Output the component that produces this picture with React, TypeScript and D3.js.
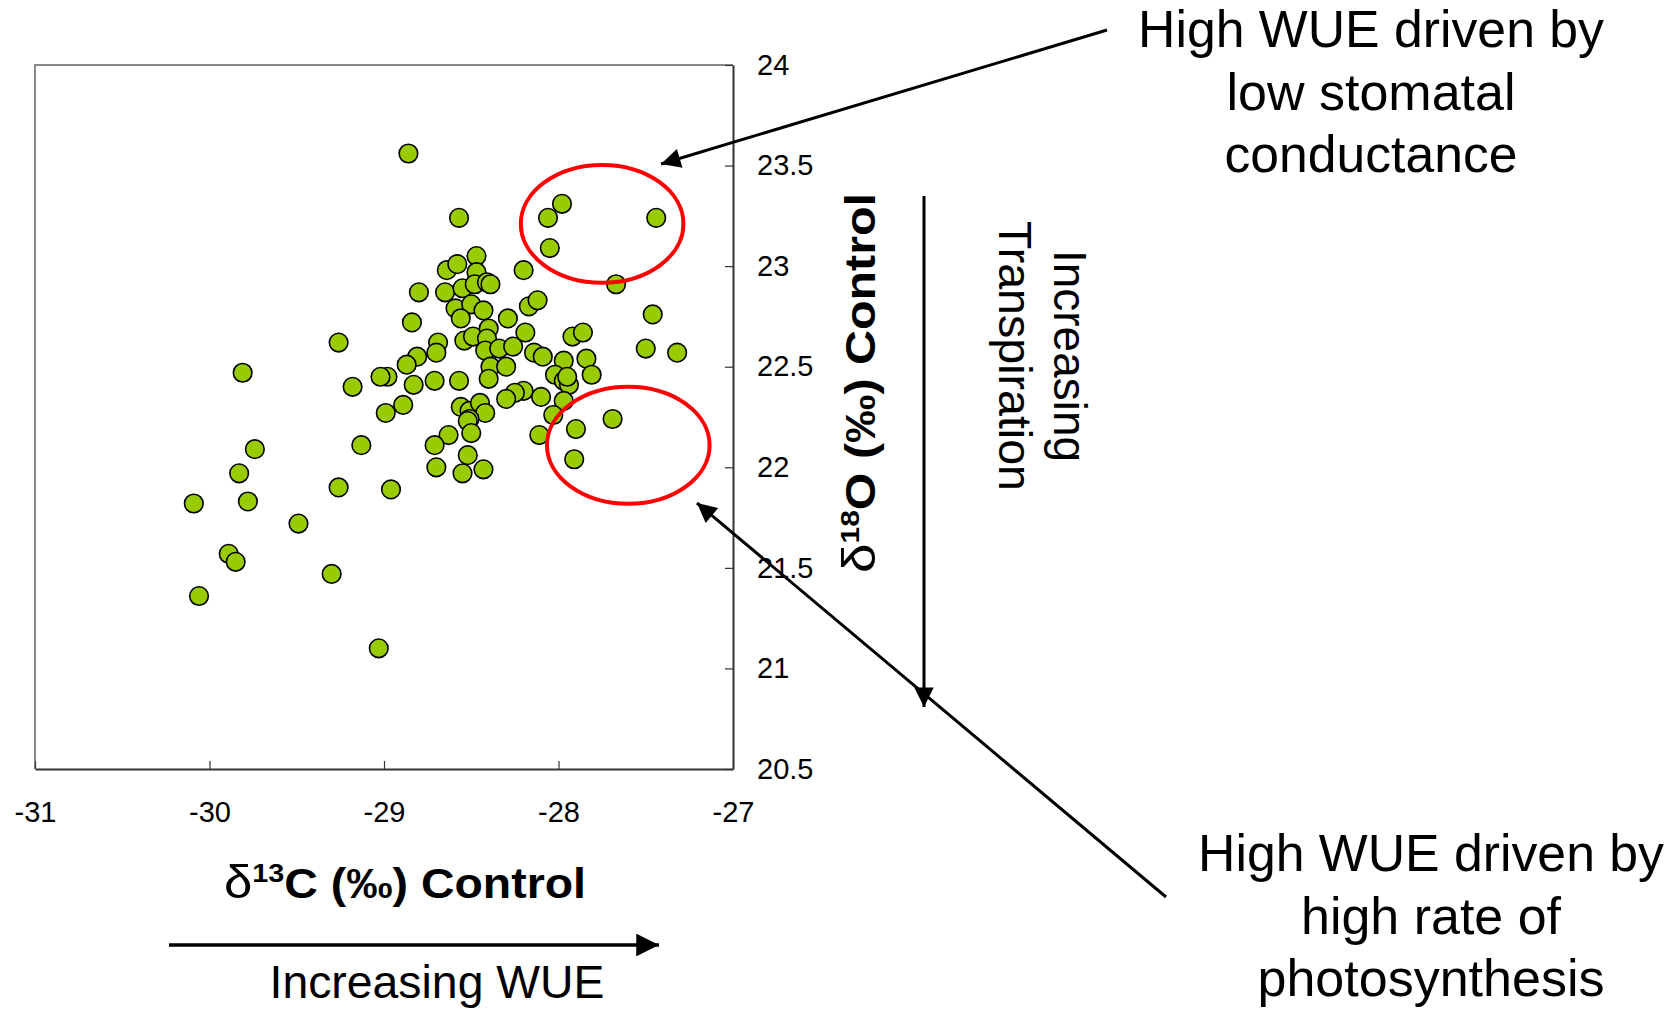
import React, { useEffect, useRef } from "react";
import * as d3 from "d3";

// delta 13C (x) and delta 18O (y), control plants
const d13C = [
  -28.86, -28.57, -27.98, -28.06, -28.05, -27.44, -28.2, -27.67, -27.46, -27.5,
  -27.32, -27.69, -27.9, -27.91, -28.8, -28.84, -28.64, -28.58, -28.47, -28.65,
  -28.55, -28.47, -28.48, -28.41, -28.39, -28.59, -28.5, -28.43, -28.56, -28.54,
  -28.49, -28.4, -28.41, -28.42, -28.34, -28.26, -28.29, -28.19, -28.17, -28.12,
  -28.39, -28.3, -28.4, -28.57, -28.69, -28.7, -28.81, -28.87, -28.98, -29.02,
  -28.83, -28.71, -28.89, -28.99, -28.14, -28.09, -27.97, -27.92, -27.86, -27.84,
  -27.81, -28.02, -27.97, -27.94, -27.95, -28.1, -28.2, -28.25, -28.3, -27.97,
  -28.03, -28.11, -28.56, -28.51, -28.45, -28.42, -28.51, -28.52, -28.5, -28.63,
  -28.71, -28.52, -28.7, -28.55, -28.43, -28.96, -29.26, -29.81, -29.18, -29.74,
  -29.83, -30.09, -29.78, -29.49, -29.89, -29.85, -30.06, -29.3, -29.26, -29.13,
  -29.03,
];
const d18O = [
  23.56, 23.24, 23.31, 23.24, 23.09, 23.24, 22.98, 22.91, 22.76, 22.59,
  22.57, 22.24, 22.19, 22.04, 22.87, 22.72, 22.98, 23.01, 23.05, 22.87,
  22.89, 22.97, 22.91, 22.92, 22.91, 22.79, 22.81, 22.78, 22.74, 22.63,
  22.65, 22.69, 22.64, 22.58, 22.59, 22.6, 22.74, 22.67, 22.8, 22.83,
  22.5, 22.5, 22.44, 22.43, 22.62, 22.57, 22.55, 22.51, 22.45, 22.45,
  22.41, 22.43, 22.31, 22.27, 22.57, 22.55, 22.53, 22.65, 22.67, 22.54,
  22.46, 22.46, 22.43, 22.41, 22.45, 22.35, 22.38, 22.37, 22.34, 22.33,
  22.26, 22.16, 22.3, 22.28, 22.32, 22.27, 22.24, 22.23, 22.17, 22.16,
  22.11, 22.06, 22.0, 21.97, 21.99, 21.89, 22.62, 22.47, 22.4, 22.09,
  21.97, 21.82, 21.83, 21.72, 21.57, 21.53, 21.36, 21.47, 21.9, 22.11,
  21.1,
];

const xTicks = [-31, -30, -29, -28, -27];
const yTicks = [20.5, 21, 21.5, 22, 22.5, 23, 23.5, 24];

// circled groups: [centre x, centre y, half-width, half-height] in data units
const groups = [
  [-27.75, 23.21, 0.466, 0.293],
  [-27.6, 22.11, 0.466, 0.291],
];

const topNote = ["High WUE driven by", "low stomatal", "conductance"];
const topNoteLen = [466, 289, 293];
const bottomNote = ["High WUE driven by", "high rate of", "photosynthesis"];
const bottomNoteLen = [466, 260, 347];

const FONT = "'Liberation Sans', Arial, sans-serif";

const App = () => {
  const ref = useRef<SVGSVGElement>(null);

  useEffect(() => {
    const svg = d3.select(ref.current);
    svg.selectAll("*").remove();

    const left = 35, right = 733, top = 65, bottom = 769;
    const x = d3.scaleLinear().domain([-31, -27]).range([left, right]);
    const y = d3.scaleLinear().domain([20.5, 24]).range([bottom, top]);

    const defs = svg.append("defs");
    defs
      .append("marker")
      .attr("id", "head")
      .attr("viewBox", "0 0 10 10")
      .attr("refX", 10)
      .attr("refY", 5)
      .attr("markerWidth", 7.5)
      .attr("markerHeight", 6.5)
      .attr("markerUnits", "strokeWidth")
      .attr("orient", "auto")
      .append("path")
      .attr("d", "M0,0 L10,5 L0,10 z")
      .attr("fill", "#000");

    // frame: light top/left
    svg
      .append("path")
      .attr("d", `M${left},${bottom} V${top} H${right}`)
      .attr("fill", "none")
      .attr("stroke", "#888")
      .attr("stroke-width", 2);

    // X axis
    const gx = svg
      .append("g")
      .attr("transform", `translate(0,${bottom})`)
      .call(
        d3
          .axisBottom(x)
          .tickValues(xTicks)
          .tickSizeInner(-8)
          .tickSizeOuter(0)
          .tickPadding(32)
          .tickFormat(d3.format("d"))
      );
    gx.select(".domain").attr("stroke", "#333").attr("stroke-width", 2);
    gx.selectAll(".tick line").attr("stroke", "#333").attr("stroke-width", 1.2);
    gx.selectAll("text")
      .attr("font-family", FONT)
      .attr("font-size", 29)
      .attr("fill", "#000")
      .text((d: any) => (d < 0 ? "-" + Math.abs(d) : String(d)));

    // Y axis (right side)
    const gy = svg
      .append("g")
      .attr("transform", `translate(${right},0)`)
      .call(
        d3
          .axisRight(y)
          .tickValues(yTicks)
          .tickSizeInner(-8)
          .tickSizeOuter(0)
          .tickPadding(24)
          .tickFormat((d: any) => String(d))
      );
    gy.select(".domain").attr("stroke", "#333").attr("stroke-width", 2);
    gy.selectAll(".tick line").attr("stroke", "#333").attr("stroke-width", 1.2);
    gy.selectAll("text")
      .attr("font-family", FONT)
      .attr("font-size", 29)
      .attr("fill", "#000");

    // points
    svg
      .append("g")
      .selectAll("circle")
      .data(d13C.map((v, i) => [v, d18O[i]]))
      .enter()
      .append("circle")
      .attr("cx", (d) => x(d[0]))
      .attr("cy", (d) => y(d[1]))
      .attr("r", 9.3)
      .attr("fill", "#99CC00")
      .attr("stroke", "#000")
      .attr("stroke-width", 1.6);

    // red ellipses
    svg
      .append("g")
      .selectAll("ellipse")
      .data(groups)
      .enter()
      .append("ellipse")
      .attr("cx", (d) => x(d[0]))
      .attr("cy", (d) => y(d[1]))
      .attr("rx", (d) => x(d[0] + d[2]) - x(d[0]))
      .attr("ry", (d) => y(d[1] - d[3]) - y(d[1]))
      .attr("fill", "none")
      .attr("stroke", "#FF0000")
      .attr("stroke-width", 4);

    // axis titles
    const xt = svg
      .append("text")
      .attr("x", 405)
      .attr("y", 898)
      .attr("text-anchor", "middle")
      .attr("font-family", FONT)
      .attr("font-size", 42)
      .attr("font-weight", "bold")
      .attr("textLength", 362)
      .attr("lengthAdjust", "spacingAndGlyphs");
    xt.append("tspan").attr("font-weight", "normal").attr("font-size", 46).text("δ");
    xt.append("tspan").attr("font-size", 26).attr("dy", -16).text("13");
    xt.append("tspan").attr("dy", 16).text("C (‰) Control");

    const yt = svg
      .append("text")
      .attr("transform", "translate(875,383) rotate(-90)")
      .attr("text-anchor", "middle")
      .attr("font-family", FONT)
      .attr("font-size", 42)
      .attr("font-weight", "bold")
      .attr("textLength", 380)
      .attr("lengthAdjust", "spacingAndGlyphs");
    yt.append("tspan").attr("font-weight", "normal").attr("font-size", 46).text("δ");
    yt.append("tspan").attr("font-size", 26).attr("dy", -16).text("18");
    yt.append("tspan").attr("dy", 16).text("O (‰) Control");

    // Increasing WUE arrow
    svg
      .append("line")
      .attr("x1", 169).attr("y1", 945).attr("x2", 659).attr("y2", 945)
      .attr("stroke", "#000").attr("stroke-width", 3.5)
      .attr("marker-end", "url(#head)");
    svg
      .append("text")
      .attr("x", 437).attr("y", 998)
      .attr("text-anchor", "middle")
      .attr("font-family", FONT).attr("font-size", 46)
      .attr("textLength", 335).attr("lengthAdjust", "spacingAndGlyphs")
      .text("Increasing WUE");

    // Increasing Transpiration arrow
    svg
      .append("line")
      .attr("x1", 924).attr("y1", 196).attr("x2", 924).attr("y2", 707)
      .attr("stroke", "#000").attr("stroke-width", 3)
      .attr("marker-end", "url(#head)");
    const tr = svg
      .append("text")
      .attr("transform", "translate(1054,356) rotate(90)")
      .attr("text-anchor", "middle")
      .attr("font-family", FONT).attr("font-size", 46);
    tr.append("tspan").attr("x", 0).attr("y", 0)
      .attr("textLength", 212).attr("lengthAdjust", "spacingAndGlyphs")
      .text("Increasing");
    tr.append("tspan").attr("x", 0).attr("y", 55)
      .attr("textLength", 270).attr("lengthAdjust", "spacingAndGlyphs")
      .text("Transpiration");

    // callout arrows
    svg
      .append("line")
      .attr("x1", 1107).attr("y1", 30).attr("x2", 661).attr("y2", 164)
      .attr("stroke", "#000").attr("stroke-width", 3)
      .attr("marker-end", "url(#head)");
    svg
      .append("line")
      .attr("x1", 1166).attr("y1", 897).attr("x2", 697).attr("y2", 503)
      .attr("stroke", "#000").attr("stroke-width", 3)
      .attr("marker-end", "url(#head)");

    const note = (lines: string[], lens: number[], cx: number, y0: number) => {
      const t = svg
        .append("text")
        .attr("text-anchor", "middle")
        .attr("font-family", FONT)
        .attr("font-size", 52);
      lines.forEach((s, i) => {
        t.append("tspan")
          .attr("x", cx)
          .attr("y", y0 + i * 62.5)
          .attr("textLength", lens[i])
          .attr("lengthAdjust", "spacingAndGlyphs")
          .text(s);
      });
    };
    note(topNote, topNoteLen, 1371, 47);
    note(bottomNote, bottomNoteLen, 1431, 871);
  }, []);

  return (
    <div style={{ position: "absolute", left: 0, top: 0 }}>
      <svg ref={ref} width={1680} height={1009} style={{ display: "block", background: "#fff" }} />
    </div>
  );
};

export default App;
